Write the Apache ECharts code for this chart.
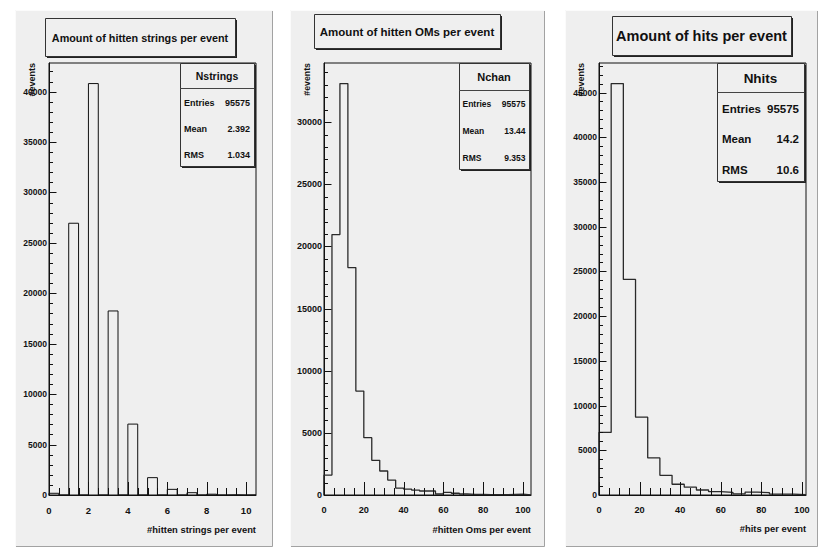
<!DOCTYPE html>
<html><head><meta charset="utf-8">
<script src="https://cdn.jsdelivr.net/npm/echarts@6/dist/echarts.min.js"></script>
<style>html,body{margin:0;padding:0;background:#ffffff}#c{width:822px;height:550px}</style>
</head><body><div id="c"></div>
<script>
// ---------------- data ----------------
const stringsRange = [0, 10.5];
const stringsCounts = [170, 0, 26950, 0, 40800, 0, 18250, 0, 7030, 0, 1720, 0, 560, 0, 230, 0, 80, 0, 20, 0, 10];
const omsRange = [0, 104];
const omsCounts = [1600, 20950, 33100, 18300, 8360, 4610, 2790, 1930, 1200, 560, 480, 400, 320, 320, 80, 210, 140, 80, 50, 40, 30, 30, 20, 40, 60, 10];
const hitsRange = [0, 102];
const hitsCounts = [7000, 46000, 24100, 8700, 4150, 2200, 1200, 880, 560, 370, 300, 120, 330, 260, 100, 100, 30];

const panelTitles = ['Amount of hitten strings per event', 'Amount of hitten OMs per event', 'Amount of hits per event'];
const statNames = ['Nstrings', 'Nchan', 'Nhits'];
const statLabels = ['Entries', 'Mean', 'RMS'];
const statValues = [['95575', '2.392', '1.034'], ['95575', '13.44', '9.353'], ['95575', '14.2', '10.6']];
const xTitles = ['#hitten strings per event', '#hitten Oms per event', '#hits per event'];
const yTitle = '#events';
const xMajorStep = [2, 20, 20];
const xMinorStep = [0.5, 5, 5];
const yMajorStep = 5000;
const yMinorStep = 1000;
const yMax = [42840, 34755, 48300];

// ---------------- layout / style ----------------
const FONT = '"Liberation Sans", Arial, Helvetica, sans-serif';
const INK = '#111111';
const PANEL_BG = '#efefef';
const layout = [
  { panel: [15, 10, 258, 537], grid: [49, 63, 207, 432],
    title: { box: [45, 18, 190, 38], size: 10.8 },
    stats: { box: [180, 63, 74, 103], sep: 25, head: 10.5, row: 9, rows: [39.5, 66, 92], pad: 4 },
    yLab: 8.5, xLab: 9.5, yTitleX: 32, xTitleY: 529, yTitleSize: 9 },
  { panel: [290, 10, 255, 537], grid: [324, 63, 207, 432],
    title: { box: [314, 14, 186, 34], size: 11.5 },
    stats: { box: [459, 63, 70, 106], sep: 27, head: 11, row: 8.5, rows: [41, 68, 94.5], pad: 3.5 },
    yLab: 9, xLab: 9.2, yTitleX: 307, xTitleY: 529, yTitleSize: 8.8 },
  { panel: [565, 10, 253, 537], grid: [599, 63, 207, 432],
    title: { box: [612, 16, 179, 39], size: 14.5 },
    stats: { box: [717, 63, 87, 118], sep: 29, head: 13.5, row: 11.5, rows: [45.5, 76, 107], pad: 5 },
    yLab: 8.5, xLab: 9.2, yTitleX: 581, xTitleY: 528, yTitleSize: 9 }
];
const TICK = { xMajor: 13, xMinor: 7, yMajor: 7.5, yMinor: 4 };

function histPoints(range, counts) {
  const n = counts.length, w = (range[1] - range[0]) / n;
  const pts = [[range[0], 0]];
  counts.forEach((c, i) => pts.push([range[0] + i * w, c]));
  pts.push([range[1], counts[n - 1]]);
  pts.push([range[1], 0]);
  return pts;
}
// tick positions: [value, isMajor]
function tickList(min, max, minor, major) {
  const out = [];
  const n = Math.round((max - min) / minor);
  for (let i = 0; i <= n; i++) {
    const v = Math.round((min + i * minor) * 1000) / 1000;
    if (v >= max - 1e-9) continue;
    const r = v / major;
    out.push([v, Math.abs(r - Math.round(r)) < 1e-6 ? 1 : 0]);
  }
  return out;
}
const plain = v => String(v);

const ranges = [stringsRange, omsRange, hitsRange];
const counts = [stringsCounts, omsCounts, hitsCounts];

const grids = [], xAxes = [], yAxes = [], series = [], graphics = [];
layout.forEach((L, p) => {
  const [gx, gy, gw, gh] = L.grid;
  grids.push({ left: gx, top: gy, width: gw, height: gh, show: true, backgroundColor: 'transparent',
    borderColor: INK, borderWidth: 1, containLabel: false });
  const xr = ranges[p];
  xAxes.push({ type: 'value', gridIndex: p, position: 'bottom', min: xr[0], max: xr[1], interval: xMajorStep[p],
    axisLine: { show: true, onZero: false, lineStyle: { color: INK, width: 1 } },
    axisTick: { show: false },
    axisLabel: { show: true, showMaxLabel: false, margin: 10, color: INK, formatter: plain,
      fontFamily: FONT, fontWeight: 'bold', fontSize: L.xLab },
    splitLine: { show: false } });
  yAxes.push({ type: 'value', gridIndex: p, position: 'left', min: 0, max: yMax[p], interval: yMajorStep,
    axisLine: { show: true, onZero: false, lineStyle: { color: INK, width: 1 } },
    axisTick: { show: false },
    axisLabel: { show: true, showMaxLabel: false, margin: 2, color: INK, formatter: plain,
      fontFamily: FONT, fontWeight: 'bold', fontSize: L.yLab },
    splitLine: { show: false } });
  series.push({ type: 'line', xAxisIndex: p, yAxisIndex: p, step: 'end', z: 3,
    symbol: 'none', showSymbol: false, silent: true, animation: false, clip: true,
    lineStyle: { color: p === 0 ? '#111' : '#2a2a2a', width: p === 0 ? 1 : 1.3 },
    data: histPoints(xr, counts[p]) });

  // panel background with bevel
  const [px, py, pw, ph] = L.panel;
  graphics.push({ type: 'rect', z: -10, silent: true, shape: { x: px, y: py, width: pw, height: ph },
    style: { fill: PANEL_BG } });
  graphics.push({ type: 'polyline', z: -9, silent: true,
    shape: { points: [[px + 0.5, py + ph], [px + 0.5, py + 0.5], [px + pw, py + 0.5]] },
    style: { stroke: '#fbfbfb', lineWidth: 1, fill: null } });
  graphics.push({ type: 'polyline', z: -9, silent: true,
    shape: { points: [[px + 1, py + ph - 0.5], [px + pw - 0.5, py + ph - 0.5], [px + pw - 0.5, py + 1]] },
    style: { stroke: '#a2a2a2', lineWidth: 1, fill: null } });

  // title box
  const [tx, ty, tw, th] = L.title.box;
  graphics.push({ type: 'rect', z: 50, silent: true, shape: { x: tx + 2, y: ty + 2, width: tw, height: th },
    style: { fill: '#222' } });
  graphics.push({ type: 'rect', z: 51, silent: true, shape: { x: tx + 0.5, y: ty + 0.5, width: tw, height: th },
    style: { fill: PANEL_BG, stroke: '#333', lineWidth: 1 } });
  graphics.push({ type: 'text', z: 52, silent: true, x: tx + tw / 2, y: ty + th / 2 + 0.5,
    style: { text: panelTitles[p], align: 'center', verticalAlign: 'middle', fill: INK,
      font: 'bold ' + L.title.size + 'px ' + FONT } });

  // stats box
  const S = L.stats; const [sx, sy, sw, sh] = S.box;
  graphics.push({ type: 'rect', z: 50, silent: true, shape: { x: sx + 2, y: sy + 2, width: sw, height: sh },
    style: { fill: '#222' } });
  graphics.push({ type: 'rect', z: 51, silent: true, shape: { x: sx + 0.5, y: sy + 0.5, width: sw, height: sh },
    style: { fill: PANEL_BG, stroke: '#333', lineWidth: 1 } });
  graphics.push({ type: 'line', z: 52, silent: true,
    shape: { x1: sx, y1: sy + S.sep + 0.5, x2: sx + sw, y2: sy + S.sep + 0.5 },
    style: { stroke: '#444', lineWidth: 1 } });
  graphics.push({ type: 'text', z: 53, silent: true, x: sx + sw / 2, y: sy + S.sep / 2 + 0.5,
    style: { text: statNames[p], align: 'center', verticalAlign: 'middle', fill: INK,
      font: 'bold ' + S.head + 'px ' + FONT } });
  statLabels.forEach((lab, i) => {
    graphics.push({ type: 'text', z: 53, silent: true, x: sx + S.pad, y: sy + S.rows[i],
      style: { text: lab, align: 'left', verticalAlign: 'middle', fill: INK, font: 'bold ' + S.row + 'px ' + FONT } });
    graphics.push({ type: 'text', z: 53, silent: true, x: sx + sw - S.pad, y: sy + S.rows[i],
      style: { text: statValues[p][i], align: 'right', verticalAlign: 'middle', fill: INK, font: 'bold ' + S.row + 'px ' + FONT } });
  });

  // axis titles
  graphics.push({ type: 'text', z: 53, silent: true, x: gx + gw, y: L.xTitleY,
    style: { text: xTitles[p], align: 'right', verticalAlign: 'middle', fill: INK, font: 'bold 9.4px ' + FONT } });
  graphics.push({ type: 'text', z: 53, silent: true, x: L.yTitleX, y: gy, rotation: Math.PI / 2,
    style: { text: yTitle, align: 'right', verticalAlign: 'middle', fill: INK, font: 'bold ' + L.yTitleSize + 'px ' + FONT } });
});

const chart = echarts.init(document.getElementById('c'), null, { renderer: 'svg', width: 822, height: 550 });
chart.setOption({
  animation: false,
  backgroundColor: '#ffffff',
  grid: grids, xAxis: xAxes, yAxis: yAxes, series: series
});

// inside ticks, placed through the axes' own scales
const tickEls = [];
layout.forEach((L, p) => {
  const xr = ranges[p];
  tickList(xr[0], xr[1], xMinorStep[p], xMajorStep[p]).forEach(t => {
    const c = chart.convertToPixel({ gridIndex: p }, [t[0], 0]);
    const len = t[1] ? TICK.xMajor : TICK.xMinor;
    tickEls.push({ type: 'rect', z: 45, silent: true,
      shape: { x: Math.round(c[0]), y: Math.round(c[1]) - len, width: 1, height: len }, style: { fill: INK } });
  });
  tickList(0, yMax[p], yMinorStep, yMajorStep).forEach(t => {
    const c = chart.convertToPixel({ gridIndex: p }, [xr[0], t[0]]);
    const len = t[1] ? TICK.yMajor : TICK.yMinor;
    tickEls.push({ type: 'rect', z: 45, silent: true,
      shape: { x: Math.round(c[0]), y: Math.round(c[1]), width: len, height: 1 }, style: { fill: INK } });
  });
});
chart.setOption({ graphic: { elements: graphics.concat(tickEls) } });
</script>
</body></html>
